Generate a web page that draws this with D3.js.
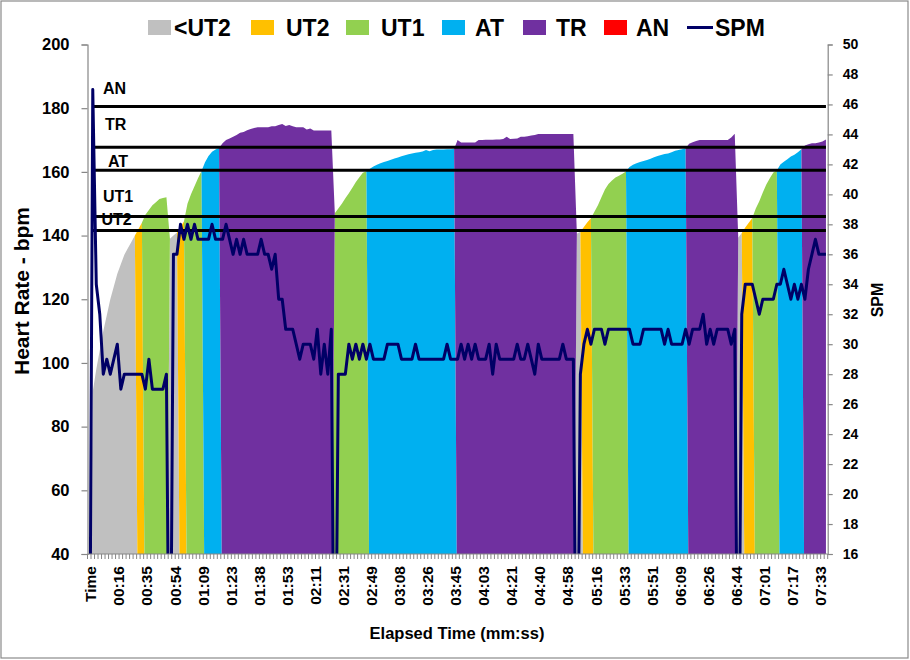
<!DOCTYPE html>
<html><head><meta charset="utf-8">
<script src="https://cdn.jsdelivr.net/npm/d3@7"></script>
<style>
body{margin:0;background:#fff}
svg{display:block}
text{font-family:"Liberation Sans",Arial,sans-serif;font-weight:bold;fill:#000}
</style>
</head><body>
<svg id="chart" width="910" height="660"></svg>
<script>
// ---------- DATA ----------
const tickLabels = ["Time","00:16","00:35","00:54","01:09","01:23","01:38","01:53","02:11","02:31","02:49","03:08","03:26","03:45","04:03","04:21","04:40","04:58","05:16","05:33","05:51","06:09","06:26","06:44","07:01","07:17","07:33"];
const labelEvery = 8;

const heartRate = [
  0,91,98,104,110,115,120,124,128,131,
  134,136,138,140,142,144,146.5,148,149.5,150.5,
  151.5,151.8,152,139,140,141,142.5,144.5,150,153,
  155.5,158,160.3,163,165,166.3,167,167.5,169,170,
  170.5,171,171.6,172.3,172.5,173.1,173.5,173.8,174,174,
  174,174,174.3,174.3,174.7,175,174.4,174.7,174.3,174,
  174,174,173.3,173.6,173,173,173,173,173,173,
  147,148.5,150,151.7,153.3,155,156.8,158.3,159.7,160.2,
  161,161.7,162.2,162.7,163.1,163.4,163.8,164.2,164.5,164.9,
  165.2,165.5,165.8,166,166.2,166.4,166.9,166.5,166.9,167,
  167,167,167.1,167.1,167.2,170,169.2,169.2,169.2,169.2,
  169.2,170,170,170.1,170.1,170.1,170.2,170.2,170.3,171,
  170.3,170.4,170.5,171,171,171.2,171.4,171.6,171.9,171.9,
  171.9,171.9,171.9,171.9,171.9,171.9,171.9,171.9,171.9,140.6,
  141.2,142.7,144.2,145.4,147.5,149.5,152,154.5,156.2,157.3,
  158.2,158.8,159.4,160.1,161.5,162.2,162.7,163.1,163.4,163.7,
  164.1,164.6,165,165.3,165.6,165.8,166.2,166.6,166.9,167.1,
  167.4,168.8,169.3,169.7,170,170,170,170,170,170,
  170,170,170,170.8,172,139.3,140.8,142.5,144,145.5,
  148.5,150.8,153.5,156,158,159.8,160.4,162.3,163.2,164,
  164.8,165.4,166.2,167.1,168.3,168.7,169,169,169.2,169.5,
  170.2
];

const strokesPerMin = [
  0,47,34,32,28,29,28,29,30,27,
  28,28,28,28,28,28,27,29,27,27,
  27,27,28,0,36,36,38,37,38,37,
  38,37,37,37,37,38,37,37,37,38,
  37,36,37,36,37,36,36,36,36,37,
  36,36,35,36,33,33,31,31,31,30,
  29,30,30,30,29,31,28,30,28,31,
  0,28,28,28,30,29,30,29,30,29,
  30,29,29,29,29,30,30,30,30,29,
  29,29,29,30,29,29,29,29,29,29,
  29,29,30,29,29,29,30,29,30,29,
  30,29,29,29,30,28,30,29,29,29,
  29,29,30,29,29,30,29,28,30,29,
  29,29,29,29,29,30,29,29,29,0,
  28,30,31,30,31,31,31,30,31,31,
  31,31,31,31,31,30,30,30,31,31,
  31,31,31,31,30,31,30,30,30,30,
  31,30,31,31,31,32,30,31,30,31,
  31,31,31,30,31,0,32,34,34,34,
  33,32,33,33,33,33,34,34,35,34,
  33,34,33,34,33,35,36,37,36,36,
  36
];

const zoneNames  = ["<UT2","UT2","UT1","AT","TR","AN"];
const zoneColors = ["#C0C0C0","#FFC000","#92D050","#00B0F0","#7030A0","#FF0000"];
const thresholdNames  = ["UT2","UT1","AT","TR","AN"];
const thresholdValues = [141.6,146,160.5,167.7,180.5];

const hrTicks  = [40,60,80,100,120,140,160,180,200];
const spmTicks = [16,18,20,22,24,26,28,30,32,34,36,38,40,42,44,46,48,50];

// ---------- LAYOUT ----------
const svg = d3.select("#chart");
const W = 910, H = 660;
const P = {left:87.5, right:827.7, top:44.5, bottom:554};
const N = heartRate.length;

svg.append("rect").attr("x",1).attr("y",1).attr("width",W-3).attr("height",H-3)
  .attr("fill","#fff").attr("stroke","#8a8a8a").attr("stroke-width",1.2);

const x = d3.scaleBand().domain(d3.range(N)).range([P.left,P.right]).padding(0);
const xc = i => x(i) + x.bandwidth()/2;
const yL = d3.scaleLinear().domain([40,200]).range([P.bottom,P.top]);
const yR = d3.scaleLinear().domain([16,50]).range([P.bottom,P.top]);

svg.append("clipPath").attr("id","plotclip").append("rect")
  .attr("x",P.left).attr("y",P.top).attr("width",P.right-P.left).attr("height",P.bottom-P.top);

const zoneOf = v => thresholdValues.filter(t => v >= t).length;

// stacked zone areas (each series = HR inside its zone, 0 elsewhere)
const rows = heartRate.map((v,i) => {
  const r = {i};
  zoneNames.forEach((z,zi) => r[z] = zoneOf(v) === zi ? v : 0);
  return r;
});
const stacked = d3.stack().keys(zoneNames)(rows);
const area = d3.area().x(d=>xc(d.data.i)).y0(d=>yL(d[0])).y1(d=>yL(d[1]));
svg.append("g").attr("clip-path","url(#plotclip)")
  .selectAll("path").data(stacked).join("path")
  .attr("d",area).attr("fill",(d,k)=>zoneColors[k]);

// threshold labels (under the lines) and lines
const thrLabelDx = [101.5,103,108,105,103];
const thrLabelDy = [-5,-14,-3.5,-17,-13];
thresholdNames.forEach((n,k) => {
  svg.append("text").attr("x",thrLabelDx[k]).attr("y",yL(thresholdValues[k])+thrLabelDy[k])
    .attr("font-size",16).text(n);
});
const gThr = svg.append("g").attr("clip-path","url(#plotclip)");
thresholdValues.forEach(t => {
  gThr.append("line").attr("x1",xc(1)).attr("x2",xc(N-1))
    .attr("y1",yL(t)).attr("y2",yL(t)).attr("stroke","#000").attr("stroke-width",3);
});

// SPM line
svg.append("g").attr("clip-path","url(#plotclip)").append("path")
  .datum(strokesPerMin)
  .attr("d", d3.line().x((d,i)=>xc(i)).y(d=>yR(d)))
  .attr("fill","none").attr("stroke","#000066").attr("stroke-width",3)
  .attr("stroke-linejoin","round");

// axes
const axisColor = "#868686";
const gL = svg.append("g").attr("transform",`translate(${P.left},0)`)
  .call(d3.axisLeft(yL).tickValues(hrTicks).tickSize(6).tickPadding(12).tickFormat(d3.format("d")));
const gR = svg.append("g").attr("transform",`translate(${P.right},0)`)
  .call(d3.axisRight(yR).tickValues(spmTicks).tickSize(5).tickPadding(10).tickFormat(d3.format("d")));
[gL,gR].forEach(g => {
  g.select(".domain").attr("stroke",axisColor).attr("stroke-width",1.2);
  g.selectAll(".tick line").attr("stroke",axisColor).attr("stroke-width",1.2);
  g.selectAll("text").attr("font-family",null).attr("fill","#000");
});
gL.attr("font-size",16.5);
gR.attr("font-size",14);

// x axis
const gX = svg.append("g");
gX.append("line").attr("x1",P.left).attr("x2",P.right).attr("y1",P.bottom).attr("y2",P.bottom)
  .attr("stroke",axisColor).attr("stroke-width",1.2);
d3.range(N+1).forEach(i => {
  const xx = P.left + i*x.bandwidth();
  gX.append("line").attr("x1",xx).attr("x2",xx).attr("y1",P.bottom).attr("y2",P.bottom+5)
    .attr("stroke",axisColor).attr("stroke-width",1);
});
tickLabels.forEach((lab,k) => {
  const i = k*labelEvery;
  gX.append("text").attr("transform",`translate(${xc(i)+1.5},566) rotate(-90)`)
    .attr("text-anchor","end").attr("dy","0.36em").attr("font-size",15.5).text(lab);
});

// titles
svg.append("text").attr("x",457).attr("y",639).attr("text-anchor","middle")
  .attr("font-size",16.5).text("Elapsed Time (mm:ss)");
svg.append("text").attr("transform","translate(29,291) rotate(-90)").attr("text-anchor","middle")
  .attr("font-size",21).text("Heart Rate - bpm");
svg.append("text").attr("transform","translate(883,300) rotate(-90)").attr("text-anchor","middle")
  .attr("font-size",16).text("SPM");

// legend
const legKeyX  = [148,251,346,442,523,604,687];
const legTextX = [174,286,381,475,556,636,715];
const legItems = zoneNames.map((n,i)=>({name:n,color:zoneColors[i],type:"area"}))
  .concat([{name:"SPM",color:"#000066",type:"line"}]);
legItems.forEach((it,i) => {
  if (it.type === "area") {
    svg.append("rect").attr("x",legKeyX[i]).attr("y",20).attr("width",23).attr("height",15).attr("fill",it.color);
  } else {
    svg.append("line").attr("x1",legKeyX[i]).attr("x2",legKeyX[i]+26).attr("y1",27.5).attr("y2",27.5)
      .attr("stroke",it.color).attr("stroke-width",3);
  }
  svg.append("text").attr("x",legTextX[i]).attr("y",35.5).attr("font-size",23).text(it.name);
});
</script>
</body></html>
